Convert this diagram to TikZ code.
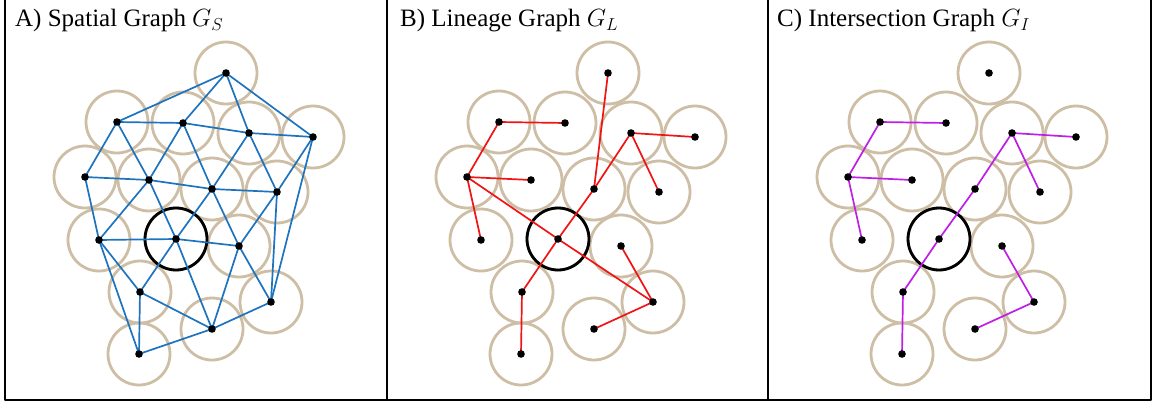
\documentclass[tikz,border=0pt]{standalone}
\usepackage{fontspec}
\setmainfont{Liberation Serif}
\usepackage{tikz}
\definecolor{cellc}{RGB}{205,190,165}
\definecolor{spblue}{RGB}{30,115,190}
\definecolor{lnred}{RGB}{240,20,20}
\definecolor{inpurple}{RGB}{190,30,230}

\begin{document}
\begin{tikzpicture}[x=1pt, y=-1pt, line cap=round, line join=round]
\useasboundingbox (0,0) rectangle (1155,404);

\def\rad{31}

\tikzset{
  cell/.style={draw=cellc, line width=2.8},
  hub/.style={draw=black, line width=2.8},
  frame/.style={draw=black, line width=1.3},
  title/.style={anchor=base west, inner sep=0, font=\fontsize{25}{29}\selectfont},
  sedge/.style={spblue, line width=1.7},
  ledge/.style={lnred, line width=1.7},
  iedge/.style={inpurple, line width=1.7}
}

% panel frames
\draw[frame] (5,-3) rectangle (387,400);
\draw[frame] (387,-3) rectangle (768,400);
\draw[frame] (768,-3) rectangle (1151,400);

\node[title] (titA) at (15,27) {A) Spatial Graph $G_S$};
\node[title] (titB) at (400,27) {B) Lineage Graph $G_L$};
\node[title] (titC) at (777,27) {C) Intersection Graph $G_I$};

% cell centres, same layout in every panel
\foreach \p/\dx in {a/0,b/382,c/763}{
  \foreach \n/\x/\y in {1/226/73, 2/117/122, 3/183/123, 4/249/133,
                        5/313/137, 6/85/177, 7/149/180, 8/212/189,
                        9/277/192, 10/99/240, 11/176/239, 12/239/246,
                        13/140/292, 14/271/302, 15/212/329, 16/139/354}
    \coordinate (\p\n) at (\x+\dx,\y);
}

% cells
\foreach \p in {a,b,c}{
  \foreach \n in {1,...,16}
    \draw[cell] (\p\n) circle (\rad);
  \draw[hub] (\p11) circle (\rad);
}

% spatial graph
\foreach \s/\t in {1/2, 1/3, 1/4, 1/5, 2/3, 3/4, 4/5,
                   2/6, 2/7, 3/7, 3/8, 4/8, 4/9, 5/9, 5/14,
                   6/7, 7/8, 8/9, 6/10, 7/10, 7/11, 8/11, 8/12, 9/12, 9/14,
                   10/11, 11/12, 10/13, 10/16, 11/13, 11/15, 12/15, 12/14,
                   13/15, 13/16, 15/16, 15/14}
  \draw[sedge] (a\s) -- (a\t);

% lineage graph
\foreach \s/\t in {1/8, 2/3, 2/6, 6/7, 6/10, 6/11, 11/14, 13/11, 11/8,
                   8/4, 4/5, 4/9, 12/14, 14/15, 13/16}
  \draw[ledge] (b\s) -- (b\t);

% intersection graph
\foreach \s/\t in {2/3, 2/6, 6/7, 6/10, 13/11, 11/8, 8/4, 4/5, 4/9,
                   12/14, 14/15, 13/16}
  \draw[iedge] (c\s) -- (c\t);

% centres
\foreach \p in {a,b,c}{
  \foreach \n in {1,...,16}
    \fill[black] (\p\n) circle (3.8);
}

\end{tikzpicture}
\end{document}
